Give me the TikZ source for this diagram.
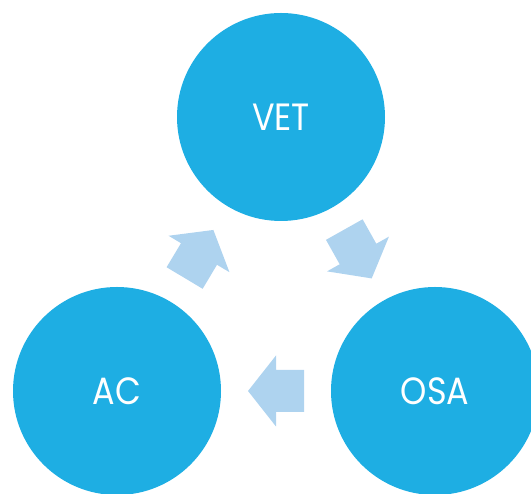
\documentclass[tikz,border=0pt]{standalone}
\usepackage{fontspec}
\setmainfont{Poppins}
\usetikzlibrary{calc}
\definecolor{circblue}{RGB}{30,174,227}
\definecolor{arrblue}{RGB}{174,211,239}
\tikzset{
  bigcirc/.style={circle, fill=circblue, draw=none, minimum size=208pt, inner sep=0pt,
    text=white, font=\fontsize{38}{42}\selectfont},
  blockarrow/.pic={
    \fill[arrblue] (28pt,0pt) -- (0pt,35.5pt) -- (0pt,21pt) -- (-28pt,21pt)
      -- (-28pt,-21pt) -- (0pt,-21pt) -- (0pt,-35.5pt) -- cycle;
  }
}
\begin{document}
\begin{tikzpicture}[x=1pt,y=1pt]
  \useasboundingbox (0,0) rectangle (531,494);
  \clip (0,0) rectangle (531,494);
  \node[bigcirc] (VET) at (281,377) {\scalebox{0.88}[1]{VET}};
  \node[bigcirc] (AC) at (117,103) {\scalebox{0.88}[1]{AC}};
  \node[bigcirc] (OSA) at (435,103) {\scalebox{0.88}[1]{OSA}};
  \pic[rotate=59.1] at ($(AC.center)!0.5!(VET.center)$) {blockarrow};
  \pic[rotate=-60.7] at ($(VET.center)!0.5!(OSA.center)$) {blockarrow};
  \pic[rotate=180] at ($(OSA.center)!0.5!(AC.center)$) {blockarrow};
\end{tikzpicture}
\end{document}
